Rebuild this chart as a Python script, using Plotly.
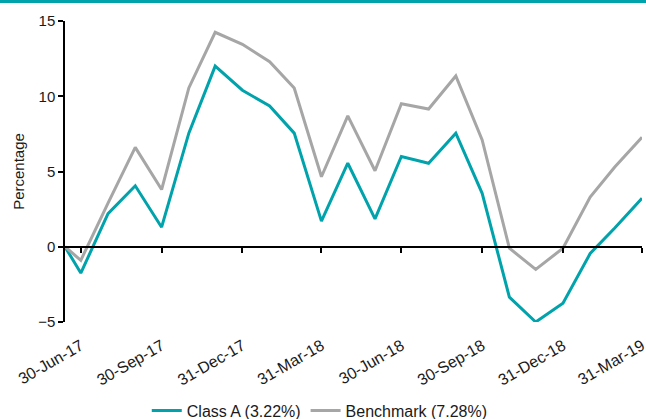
import plotly.graph_objects as go

# ---- data ----
dates = [
    "2017-06-12", "2017-06-30", "2017-07-31", "2017-08-31", "2017-09-30",
    "2017-10-31", "2017-11-30", "2017-12-31", "2018-01-31", "2018-02-28",
    "2018-03-31", "2018-04-30", "2018-05-31", "2018-06-30", "2018-07-31",
    "2018-08-31", "2018-09-30", "2018-10-31", "2018-11-30", "2018-12-31",
    "2019-01-31", "2019-02-28", "2019-03-31",
]
class_a = [0.0, -1.75, 2.2, 4.05, 1.3, 7.55, 12.0, 10.4, 9.35, 7.55,
           1.7, 5.55, 1.85, 6.0, 5.55, 7.55, 3.55, -3.35, -5.0, -3.75,
           -0.45, 1.25, 3.22]
benchmark = [0.0, -0.9, 2.9, 6.6, 3.8, 10.55, 14.25, 13.45, 12.3, 10.55,
             4.65, 8.7, 5.05, 9.5, 9.15, 11.35, 7.1, -0.1, -1.5, -0.1,
             3.3, 5.3, 7.28]
tick_dates = ["2017-06-30", "2017-09-30", "2017-12-31", "2018-03-31",
              "2018-06-30", "2018-09-30", "2018-12-31", "2019-03-31"]
tick_labels = ["30-Jun-17", "30-Sep-17", "31-Dec-17", "31-Mar-18",
               "30-Jun-18", "30-Sep-18", "31-Dec-18", "31-Mar-19"]
series_names = ["Class A (3.22%)", "Benchmark (7.28%)"]

TEAL = "#00A3AB"
GREY = "#A6A6A6"
FONT = "Liberation Sans"

fig = go.Figure()
fig.add_trace(go.Scatter(x=dates, y=class_a, mode="lines", name=series_names[0],
                         line=dict(color=TEAL, width=3)))
fig.add_trace(go.Scatter(x=dates, y=benchmark, mode="lines", name=series_names[1],
                         line=dict(color=GREY, width=3)))

fig.update_layout(
    width=646, height=419,
    margin=dict(l=65, r=4, t=21, b=97, autoexpand=False),
    paper_bgcolor="white", plot_bgcolor="white",
    font=dict(family=FONT, size=15, color="#1a1a1a"),
    showlegend=True,
    legend=dict(orientation="h", xref="container", yref="container",
                x=0.495, xanchor="center", y=0.02, yanchor="middle",
                font=dict(size=16), bgcolor="rgba(0,0,0,0)"),
    xaxis=dict(type="date", range=[dates[0], dates[-1]],
               tickmode="array", tickvals=tick_dates, ticktext=tick_labels,
               tickangle=-30, anchor="free", position=0.25,
               showline=True, linecolor="black", linewidth=1.5,
               ticks="outside", ticklen=5, tickwidth=1.5, tickcolor="black",
               showgrid=False, zeroline=False, ticklabelstandoff=78,
               ticklabelshift=0,
               ticklabeloverflow="allow", automargin=False,
               tickfont=dict(size=16)),
    yaxis=dict(range=[-5, 15], tickmode="linear", tick0=0, dtick=5,
               showline=True, linecolor="black", linewidth=1.5,
               ticks="outside", ticklen=5, tickwidth=1.5, tickcolor="black",
               showgrid=False, zeroline=False, automargin=False,
               title=dict(text="Percentage", standoff=10, font=dict(size=15)),
               tickfont=dict(size=15)),
)

fig.add_shape(type="line", xref="paper", yref="paper",
              x0=-0.2, x1=1.2, y0=1.065, y1=1.065,
              line=dict(color=TEAL, width=3))

fig.write_html("out.html", config={"displayModeBar": False},
               post_script="document.body.style.margin='0';document.body.style.overflow='hidden';")
